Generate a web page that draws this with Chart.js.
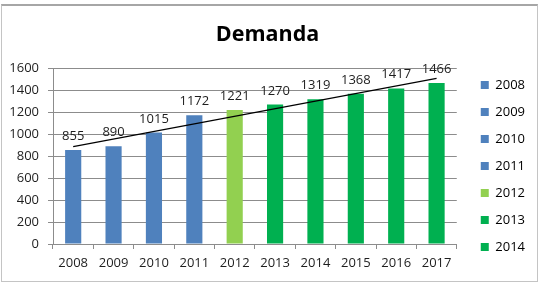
<!DOCTYPE html>
<html lang="es">
<head>
  <meta charset="UTF-8" />
  <title>Demanda</title>
  <script src="https://cdn.jsdelivr.net/npm/chart.js"></script>
  <style>
    body {
      margin: 0;
      background-color: #fff;
      overflow: hidden;
    }
    #frame {
      position: absolute;
      left: 1px;
      top: 4px;
      width: 535px;
      height: 275px;
      border: 1px solid #c4c4c4;
      border-top: 2px solid #a6a6a6;
      pointer-events: none;
    }
    canvas {
      position: absolute;
      left: 0;
      top: 0;
    }
  </style>
</head>
<body>
  <canvas id="demandChart" width="540" height="283"></canvas>
  <div id="frame"></div>

  <script>
    const years = ['2008', '2009', '2010', '2011', '2012', '2013', '2014', '2015', '2016', '2017'];
    const demand = [855, 890, 1015, 1172, 1221, 1270, 1319, 1368, 1417, 1466];
    // linea de tendencia (extremos)
    const trend = [886, null, null, null, null, null, null, null, null, 1509];
    const yTicks = [0, 200, 400, 600, 800, 1000, 1200, 1400, 1600];
    // la leyenda original solo muestra hasta 2014
    const legendYears = ['2008', '2009', '2010', '2011', '2012', '2013', '2014'];

    const BLUE = '#4F81BD';
    const LIGHT_GREEN = '#92D050';
    const GREEN = '#00B050';
    const barColors = [BLUE, BLUE, BLUE, BLUE, LIGHT_GREEN, GREEN, GREEN, GREEN, GREEN, GREEN];

    const FONT = "'Open Sans', sans-serif";
    const TEXT = '#1e1e1e';
    const GRID = '#8c8c8c';

    const valueLabels = {
      id: 'valueLabels',
      afterDatasetsDraw(chart) {
        const ctx = chart.ctx;
        const meta = chart.getDatasetMeta(0);
        ctx.save();
        ctx.font = '13px ' + FONT;
        ctx.fillStyle = TEXT;
        ctx.textAlign = 'center';
        ctx.textBaseline = 'alphabetic';
        meta.data.forEach((bar, i) => {
          ctx.fillText(demand[i], bar.x, bar.y - 10);
        });
        ctx.restore();
      }
    };

    new Chart(document.getElementById('demandChart'), {
      type: 'bar',
      data: {
        labels: years,
        datasets: [{
          label: 'Demanda',
          data: demand,
          backgroundColor: barColors,
          categoryPercentage: 1,
          barPercentage: 0.4,
          order: 1
        }, {
          type: 'line',
          label: 'Tendencia',
          data: trend,
          spanGaps: true,
          borderColor: '#000',
          borderWidth: 1.2,
          pointRadius: 0,
          order: 0
        }]
      },
      plugins: [valueLabels],
      options: {
        responsive: false,
        animation: false,
        layout: { padding: { left: 0, right: 5, top: 0, bottom: 15.5 } },
        plugins: {
          title: {
            display: true,
            text: 'Demanda',
            color: '#000',
            font: { family: FONT, size: 21.5, weight: 'bold' },
            padding: { top: 22, bottom: 17 }
          },
          legend: {
            position: 'right',
            align: 'end',
            labels: {
              boxWidth: 8,
              boxHeight: 8,
              padding: 14,
              color: TEXT,
              font: { family: FONT, size: 13 },
              generateLabels: () => legendYears.map((y, i) => ({
                text: y,
                fillStyle: barColors[i],
                strokeStyle: barColors[i],
                lineWidth: 0,
                hidden: false,
                datasetIndex: 0
              }))
            }
          },
          tooltip: { enabled: false }
        },
        scales: {
          x: {
            grid: { display: true, drawOnChartArea: false, offset: true, tickLength: 5, color: GRID },
            border: { color: GRID },
            ticks: { color: TEXT, font: { family: FONT, size: 13 }, padding: 6 },
            afterFit: s => { s.height = 23.5; }
          },
          y: {
            min: 0,
            max: 1600,
            grid: { color: GRID, tickLength: 5 },
            border: { color: GRID },
            ticks: {
              color: TEXT,
              font: { family: FONT, size: 13 },
              padding: 9,
              callback: v => String(v)
            },
            afterBuildTicks: s => { s.ticks = yTicks.map(v => ({ value: v })); },
            afterFit: s => { s.width = 53; }
          },
          // ejes vacios solo para separar el area del grafico de la leyenda
          gapRight: {
            type: 'linear',
            position: 'right',
            ticks: { display: false },
            grid: { display: false },
            border: { display: false },
            afterFit: s => { s.width = 10; }
          },
          gapTop: {
            type: 'linear',
            position: 'top',
            ticks: { display: false },
            grid: { display: false },
            border: { display: false },
            afterFit: s => { s.height = 3.5; }
          }
        }
      }
    });
  </script>
</body>
</html>
